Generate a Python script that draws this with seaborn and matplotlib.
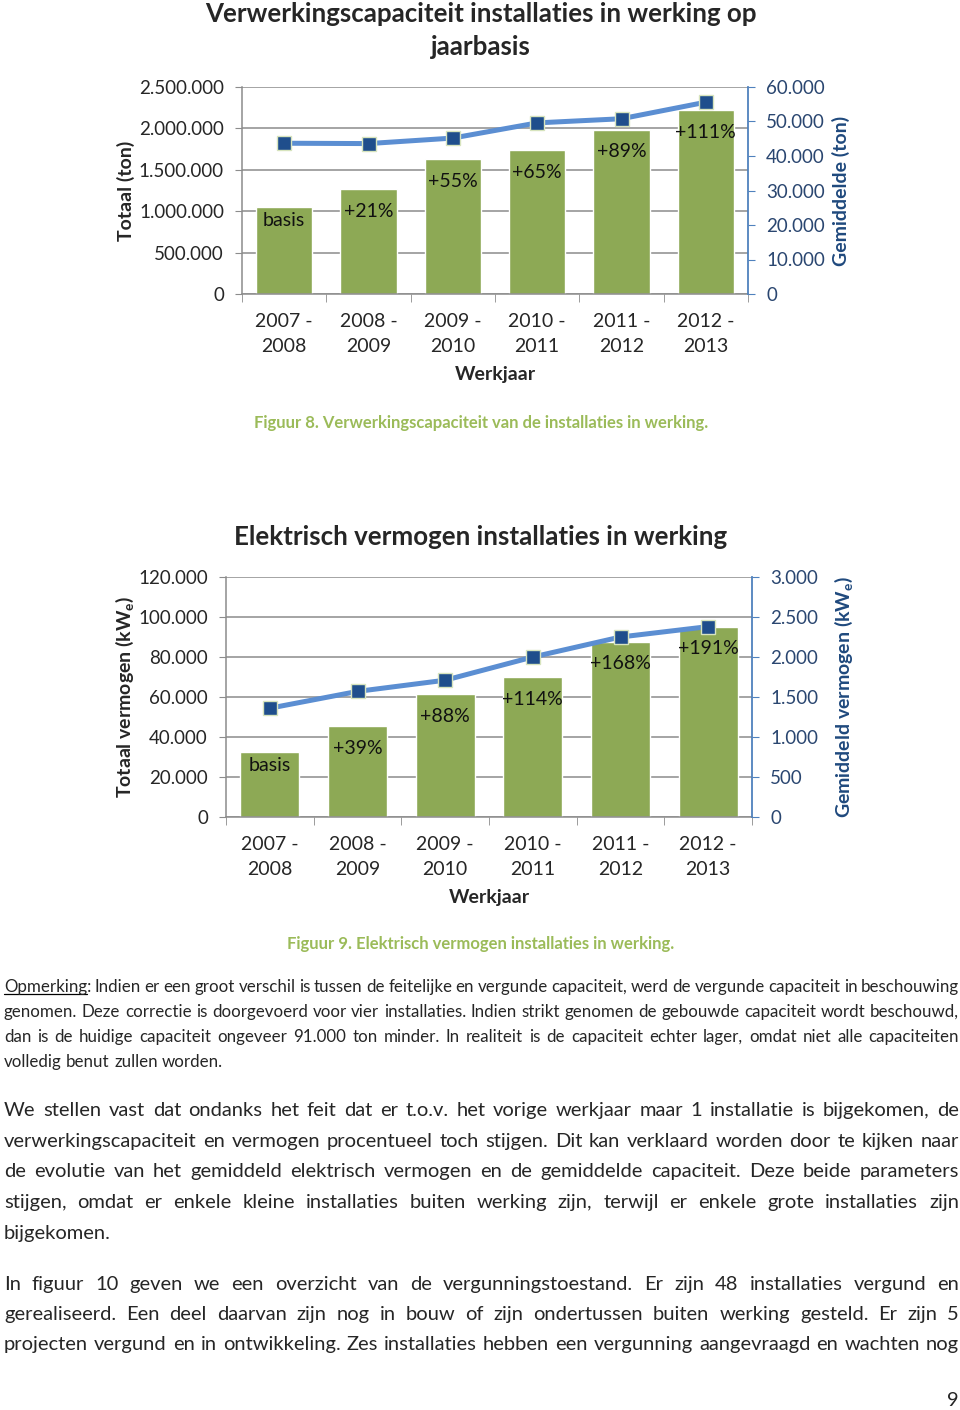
import numpy as np
import matplotlib
matplotlib.use("Agg")
import matplotlib.pyplot as plt
import seaborn as sns
from matplotlib.lines import Line2D

# ---------------- data ----------------
years = ["2007 -\n2008", "2008 -\n2009", "2009 -\n2010", "2010 -\n2011", "2011 -\n2012", "2012 -\n2013"]

cap_total = [1050000, 1270000, 1630000, 1735000, 1985000, 2220000]
cap_avg = [43700, 43600, 45200, 49600, 50800, 55600]
cap_labels = ["basis", "+21%", "+55%", "+65%", "+89%", "+111%"]
cap_left_ticks = [0, 500000, 1000000, 1500000, 2000000, 2500000]
cap_right_ticks = [0, 10000, 20000, 30000, 40000, 50000, 60000]

pow_total = [32700, 45500, 61500, 70000, 87700, 95200]
pow_avg = [1360, 1570, 1710, 2000, 2250, 2380]
pow_labels = ["basis", "+39%", "+88%", "+114%", "+168%", "+191%"]
pow_left_ticks = [0, 20000, 40000, 60000, 80000, 100000, 120000]
pow_right_ticks = [0, 500, 1000, 1500, 2000, 2500, 3000]

title1_lines = ["Verwerkingscapaciteit installaties in werking op", "jaarbasis"]
title2 = "Elektrisch vermogen installaties in werking"
caption1 = "Figuur 8. Verwerkingscapaciteit van de installaties in werking."
caption2 = "Figuur 9. Elektrisch vermogen installaties in werking."

para1 = [
    "Opmerking: Indien er een groot verschil is tussen de feitelijke en vergunde capaciteit, werd de vergunde capaciteit in beschouwing",
    "genomen. Deze correctie is doorgevoerd voor vier installaties. Indien strikt genomen de gebouwde capaciteit  wordt beschouwd,",
    "dan is de huidige capaciteit ongeveer 91.000 ton minder. In realiteit is de capaciteit echter lager, omdat niet alle capaciteiten",
    "volledig benut zullen worden.",
]
para2 = [
    "We stellen vast dat ondanks het feit dat er t.o.v. het vorige werkjaar maar 1 installatie is bijgekomen, de",
    "verwerkingscapaciteit en vermogen procentueel toch stijgen. Dit kan verklaard worden door te kijken naar",
    "de evolutie van het gemiddeld elektrisch vermogen en de gemiddelde capaciteit. Deze beide parameters",
    "stijgen, omdat er enkele kleine installaties buiten werking zijn, terwijl er enkele grote installaties zijn",
    "bijgekomen.",
]
para3 = [
    "In figuur 10 geven we een overzicht van de vergunningstoestand. Er zijn 48 installaties vergund en",
    "gerealiseerd. Een deel daarvan zijn nog in bouw of zijn ondertussen buiten werking gesteld. Er zijn 5",
    "projecten vergund en  in ontwikkeling. Zes installaties hebben een vergunning aangevraagd en wachten nog",
]

# ---------------- style ----------------
sns.set_style("white")
FONT = ["Lato", "DejaVu Sans"]
plt.rcParams["font.family"] = FONT
plt.rcParams["mathtext.fontset"] = "custom"
plt.rcParams["mathtext.rm"] = "Lato"
plt.rcParams["mathtext.bf"] = "Lato:bold"

GREEN = "#8DA955"
LINE = "#5B8ED2"
NAVY = "#1F4E8C"
GRID = "#8C8C8C"
RBLUE = "#4F81BD"
RTEXT = "#2A4670"
RLABEL = "#1F497D"
CAPC = "#9BBB59"

W, H = 960, 1410
fig = plt.figure(figsize=(W / 100, H / 100), dpi=100)


def fmt(v):
    return f"{v:,}".replace(",", ".")


def chart(px_left, px_top, px_right, px_bottom, totals, avgs, labels, lticks, rticks,
          ylab_l, ylab_r, ylx, yrx):
    ax = fig.add_axes([px_left / W, 1 - px_bottom / H, (px_right - px_left) / W, (px_bottom - px_top) / H])
    sns.barplot(x=years, y=totals, ax=ax, color=GREEN, saturation=1, width=0.67, zorder=2)
    ax.set_xlim(-0.5, len(years) - 0.5)
    ax.set_ylim(lticks[0], lticks[-1])
    ax.set_yticks(lticks)
    ax.set_yticklabels([fmt(v) for v in lticks], fontsize=13.5)
    ax.set_axisbelow(True)
    ax.yaxis.grid(True, color=GRID, lw=1.1)
    ax.xaxis.grid(False)
    for s in ["top", "right"]:
        ax.spines[s].set_visible(False)
    for s in ["left", "bottom"]:
        ax.spines[s].set_color(GRID)
        ax.spines[s].set_linewidth(1.1)
    ax.tick_params(axis="y", length=5, color=GRID, pad=8, left=True)
    ax.set_xticks(range(len(years)))
    ax.set_xticklabels(years, fontsize=14, linespacing=1.55)
    ax.tick_params(axis="x", which="major", length=0, pad=14)
    ax.set_xticks(np.arange(-0.5, len(years), 1.0), minor=True)
    ax.tick_params(axis="x", which="minor", length=6, color=GRID, bottom=True)
    ax.set_xlabel("Werkjaar", fontsize=14, fontweight="bold", labelpad=8)
    ax.set_ylabel(ylab_l, fontsize=14, fontweight="bold")
    ax.yaxis.set_label_coords(ylx, 0.5)
    for i, (v, lab) in enumerate(zip(totals, labels)):
        off = -10 if i == 0 else -16
        ax.annotate(lab, (i, v), xytext=(0, off), textcoords="offset points",
                    ha="center", va="center", fontsize=14, color="#111111")

    axr = ax.twinx()
    sns.lineplot(x=np.arange(len(avgs)), y=avgs, ax=axr, color=LINE, lw=3.6,
                 marker="s", markersize=10, markerfacecolor=NAVY,
                 markeredgecolor="#D7E4BD", markeredgewidth=1.0, zorder=5)
    axr.set_xlim(-0.5, len(years) - 0.5)
    axr.set_ylim(rticks[0], rticks[-1])
    axr.set_yticks(rticks)
    axr.set_yticklabels([fmt(v) for v in rticks], fontsize=13.5, color=RTEXT)
    for s in ["top", "left", "bottom"]:
        axr.spines[s].set_visible(False)
    axr.spines["right"].set_color(RBLUE)
    axr.spines["right"].set_linewidth(1.3)
    axr.tick_params(axis="y", length=5, color=RBLUE, pad=8, right=True)
    axr.set_ylabel(ylab_r, fontsize=14, fontweight="bold", color=RLABEL)
    axr.yaxis.set_label_coords(yrx, 0.5)
    axr.grid(False)
    return ax


chart(242, 87, 748, 294, cap_total, cap_avg, cap_labels, cap_left_ticks, cap_right_ticks,
      "Totaal (ton)", "Gemiddelde (ton)", -0.211, 1.166)
chart(226, 577, 752, 817, pow_total, pow_avg, pow_labels, pow_left_ticks, pow_right_ticks,
      "Totaal vermogen (kW$_\\mathregular{e}$)", "Gemiddeld vermogen (kW$_\\mathregular{e}$)",
      -0.171, 1.152)

for txt, yc in zip(title1_lines, [14, 47]):
    fig.text(481 / W, 1 - yc / H, txt, ha="center", va="center", fontsize=18.6, fontweight="bold")
fig.text(481 / W, 1 - 537 / H, title2, ha="center", va="center", fontsize=18.6, fontweight="bold")

fig.text(481 / W, 1 - 423 / H, caption1, ha="center", va="center", fontsize=12,
         fontweight="bold", color=CAPC)
fig.text(481 / W, 1 - 944 / H, caption2, ha="center", va="center", fontsize=12,
         fontweight="bold", color=CAPC)

# ---------------- justified paragraphs ----------------
renderer = fig.canvas.get_renderer()
X0, X1 = 4, 959


def measure(words, size):
    out = []
    for w in words:
        t = fig.text(0, 0, w, fontsize=size)
        out.append(t.get_window_extent(renderer).width)
        t.remove()
    return out


def paragraph(lines, ycs, size, justify_last=False, underline_first=False):
    sp = measure(["a a"], size)[0] - measure(["aa"], size)[0]
    maxw = 0
    for ln in lines:
        ws = measure(ln.split(), size)
        maxw = max(maxw, sum(ws) + sp * 0.8 * (len(ws) - 1))
    if maxw > X1 - X0:
        size = size * (X1 - X0) / maxw
        sp = measure(["a a"], size)[0] - measure(["aa"], size)[0]
    px = size * 100 / 72
    for k, (ln, yc) in enumerate(zip(lines, ycs)):
        words = ln.split()
        ws = measure(words, size)
        last = (k == len(lines) - 1) and not justify_last
        if not last and len(words) > 1:
            gap = (X1 - X0 - sum(ws)) / (len(words) - 1)
        else:
            gap = sp
        x = X0
        base = yc + 0.36 * px
        for j, (w, wd) in enumerate(zip(words, ws)):
            fig.text(x / W, 1 - base / H, w, fontsize=size, ha="left", va="baseline")
            if underline_first and k == 0 and j == 0:
                uw = measure([w.rstrip(":")], size)[0]
                yy = 1 - (base + 0.14 * px) / H
                fig.add_artist(Line2D([x / W, (x + uw) / W], [yy, yy], color="black", lw=0.9))
            x += wd + gap


paragraph(para1, [986, 1011, 1036, 1061], 12.5, underline_first=True)
paragraph(para2, [1109, 1140, 1170, 1201, 1232], 14.5)
paragraph(para3, [1283, 1313, 1343], 14.5, justify_last=True)
fig.text(959 / W, 1 - 1400 / H, "9", ha="right", va="center", fontsize=14.5)

fig.savefig("out.png", dpi=100)
